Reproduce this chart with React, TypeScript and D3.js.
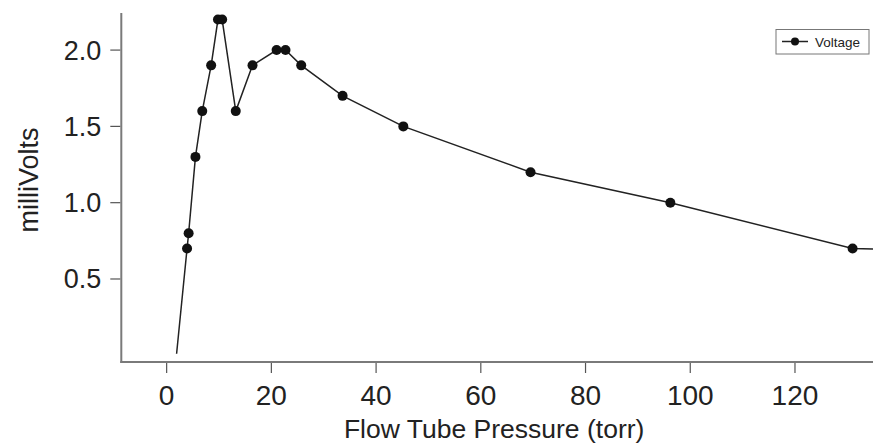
import React from "react";
import * as d3 from "d3";

const pressure = [1.9, 3.9, 4.2, 5.5, 6.8, 8.5, 9.8, 10.6, 13.2, 16.4, 21.0, 22.7, 25.7, 33.6, 45.2, 69.5, 96.2, 131.0, 160];
const voltage = [0.01, 0.7, 0.8, 1.3, 1.6, 1.9, 2.2, 2.2, 1.6, 1.9, 2.0, 2.0, 1.9, 1.7, 1.5, 1.2, 1.0, 0.7, 0.67];
const xTicks = [0, 20, 40, 60, 80, 100, 120];
const yTicks = [0.5, 1.0, 1.5, 2.0];
const seriesName = "Voltage";
const xTitle = "Flow Tube Pressure (torr)";
const yTitle = "milliVolts";

const W = 873;
const H = 446;
const FONT = "'Liberation Sans', Arial, Helvetica, sans-serif";

export default function App() {
  const x = d3.scaleLinear().domain([-8.66, 134.9]).range([121.3, 873]);
  const y = d3.scaleLinear().domain([-0.044, 2.243]).range([362, 13]);
  const data = pressure.map((p, i) => ({ p, v: voltage[i] }));
  const line = d3
    .line<{ p: number; v: number }>()
    .x((d) => x(d.p))
    .y((d) => y(d.v));
  const [x0, x1] = x.range();
  const [yb, yt] = y.range();
  const axisColor = "#7a7a7a";
  const tickColor = "#555";

  return (
    <svg
      width={W}
      height={H}
      style={{ position: "absolute", left: 0, top: 0, background: "#fff" }}
    >
      <defs>
        <clipPath id="plot">
          <rect x={x0} y={0} width={x1 - x0} height={yb} />
        </clipPath>
      </defs>
      {/* axes */}
      <line x1={x0} x2={x0} y1={yt} y2={yb + 1} stroke={axisColor} strokeWidth={2} />
      <line x1={x0 - 1} x2={x1} y1={yb} y2={yb} stroke={axisColor} strokeWidth={2} />
      {xTicks.map((t) => (
        <g key={"xt" + t}>
          <line x1={x(t)} x2={x(t)} y1={yb + 1} y2={yb + 11} stroke={tickColor} strokeWidth={1.2} />
          <text
            x={x(t)}
            y={405}
            textAnchor="middle"
            fontFamily={FONT}
            fontSize={28}
            fill="#222"
          >
            {t}
          </text>
        </g>
      ))}
      {yTicks.map((t) => (
        <g key={"yt" + t}>
          <line x1={x0 - 11} x2={x0 - 1} y1={y(t)} y2={y(t)} stroke={tickColor} strokeWidth={1.2} />
          <text
            x={x0 - 20}
            y={y(t) + 9.5}
            textAnchor="end"
            fontFamily={FONT}
            fontSize={27}
            fill="#222"
          >
            {t.toFixed(1)}
          </text>
        </g>
      ))}
      <text
        x={(x0 + x1) / 2 - 3}
        y={438}
        textAnchor="middle"
        fontFamily={FONT}
        fontSize={26.5}
        fill="#222"
      >
        {xTitle}
      </text>
      <text
        transform={`translate(38, ${180}) rotate(-90)`}
        textAnchor="middle"
        fontFamily={FONT}
        fontSize={27}
        fill="#222"
      >
        {yTitle}
      </text>
      {/* series */}
      <g clipPath="url(#plot)">
        <path d={line(data) || ""} fill="none" stroke="#222" strokeWidth={1.5} />
        {data.slice(1).map((d, i) => (
          <circle key={i} cx={x(d.p)} cy={y(d.v)} r={5} fill="#111" />
        ))}
      </g>
      {/* legend */}
      <g>
        <rect x={776} y={29.5} width={93} height={24.5} fill="#fff" stroke="#777" strokeWidth={1} />
        <line x1={782} x2={808} y1={41.5} y2={41.5} stroke="#222" strokeWidth={1.5} />
        <circle cx={795} cy={41.5} r={4} fill="#111" />
        <text x={815} y={46.5} fontFamily={FONT} fontSize={13.5} fill="#222">
          {seriesName}
        </text>
      </g>
    </svg>
  );
}
